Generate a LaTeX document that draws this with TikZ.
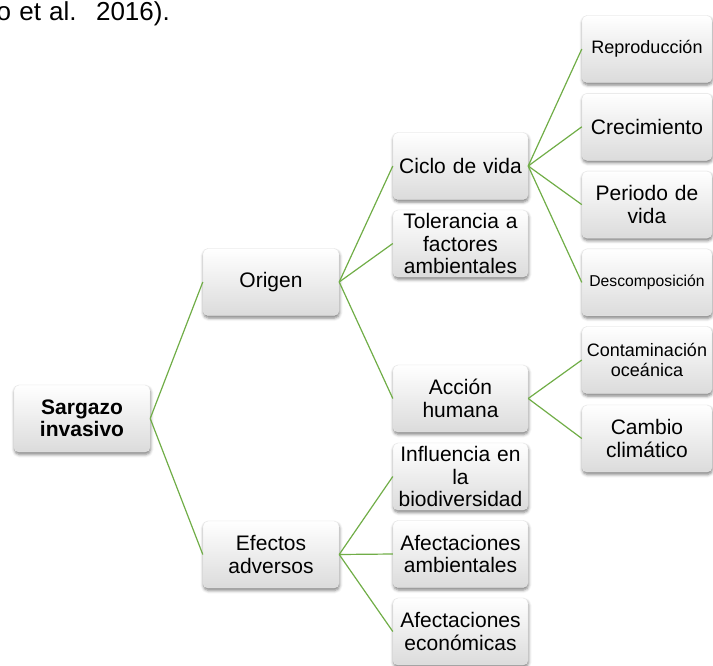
\documentclass[tikz,border=0pt]{standalone}
\usepackage{fontspec}
\setmainfont{Liberation Sans}
\usetikzlibrary{shadows.blur}
\definecolor{branch}{RGB}{112,173,71}
\tikzset{
  card/.style={rounded corners=5pt, top color=white, bottom color=black!14,
    draw=black!10, line width=0.4pt, minimum width=135pt, minimum height=67pt,
    inner sep=2pt, align=center, text width=131pt,
    font=\fontsize{21}{22.5}\selectfont,
    blur shadow={shadow xshift=0.5pt, shadow yshift=-2.5pt, shadow blur radius=3pt, shadow opacity=50}},
  leafcard/.style={card, minimum width=130pt, text width=126pt},
  link/.style={draw=branch, line width=1.2pt}
}
\begin{document}
\begin{tikzpicture}[x=1pt,y=-1pt]
\useasboundingbox (0,0) rectangle (713,665);

% tail of the preceding sentence
\node[anchor=base west, inner sep=0, font=\fontsize{26}{30}\selectfont] (cite) at (-3.5,20)
  {o\hspace{8.3pt}et\hspace{8pt}al.\hspace{19.5pt}2016).};

% root
\node[card, minimum width=136pt, font=\bfseries\fontsize{21}{22.5}\selectfont] (root) at (82,418.5) {Sargazo\\invasivo};

% first level
\node[card, minimum width=136pt] (origen) at (271,282) {Origen};
\node[card, minimum width=136pt] (efectos) at (271,554.5) {Efectos\\adversos};

% second level
\node[card] (ciclo) at (460.5,166) {Ciclo de vida};
\node[card] (toler) at (460.5,243.5) {Tolerancia a\\factores\\ambientales};
\node[card] (accion) at (460.5,398.5) {Acción\\humana};
\node[card] (influ) at (460.5,476.5) {Influencia en\\la\\biodiversidad};
\node[card] (afamb) at (460.5,554) {Afectaciones\\ambientales};
\node[card] (afeco) at (460.5,631.5) {Afectaciones\\económicas};

% third level
\node[leafcard, font=\fontsize{18}{20}\selectfont] (repro) at (647,49) {Reproducción};
\node[leafcard] (crec) at (647,126.8) {Crecimiento};
\node[leafcard] (period) at (647,204.6) {Periodo de\\vida};
\node[leafcard, font=\fontsize{15.7}{18}\selectfont] (descomp) at (647,282.4) {Descomposición};
\node[leafcard, font=\fontsize{18}{20}\selectfont] (contam) at (647,360) {Contaminación\\oceánica};
\node[leafcard] (cambio) at (647,438.5) {Cambio\\climático};

% connectors
\foreach \a/\b in {root/origen, root/efectos,
  origen/ciclo, origen/toler, origen/accion,
  efectos/influ, efectos/afamb, efectos/afeco,
  ciclo/repro, ciclo/crec, ciclo/period, ciclo/descomp,
  accion/contam, accion/cambio}
  \draw[link] (\a.east) -- (\b.west);
\end{tikzpicture}
\end{document}
